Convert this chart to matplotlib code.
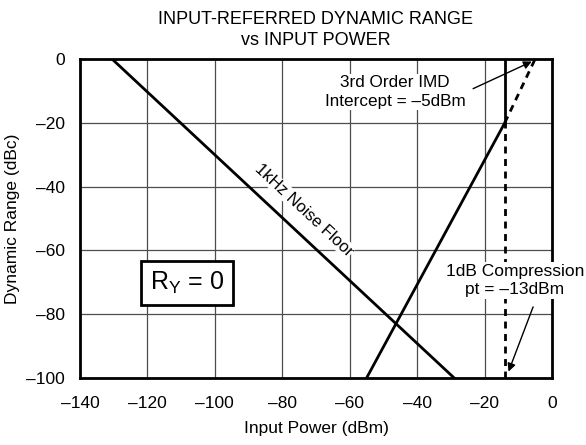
import numpy as np
import matplotlib.pyplot as plt

plt.rcParams['font.family'] = ['Liberation Sans', 'DejaVu Sans']

# noise floor (1kHz)
noise_x = [-130.5, -29]
noise_y = [0, -100]
# 3rd order IMD line, solid part and dashed extrapolation
imd_x = [-55, -14]
imd_y = [-100, -20]
imd_ext_x = [-14, -5]
imd_ext_y = [-20, 0]
# compression limit
comp_x = -14
comp_solid_y = [-20, 0]
comp_dash_y = [-100, -20]

fig = plt.figure(figsize=(5.86, 4.45), dpi=100)
ax = fig.add_axes([80/586, 1-378/445, 472/586, 319/445])

ax.plot(noise_x, noise_y, color='k', lw=2)
ax.plot(imd_x, imd_y, color='k', lw=2)
ax.plot(imd_ext_x, imd_ext_y, color='k', lw=2, ls=(0, (2.5, 2)))
ax.plot([comp_x, comp_x], comp_solid_y, color='k', lw=2)
ax.plot([comp_x, comp_x], comp_dash_y, color='k', lw=2, ls=(0, (2.5, 2)))

ax.set_xlim(-140, 0)
ax.set_ylim(-100, 0)
ax.set_xticks(np.arange(-140, 1, 20))
ax.set_yticks(np.arange(-100, 1, 20))
ax.set_xticklabels(['\u2013' + str(-v) if v < 0 else '0' for v in range(-140, 1, 20)])
ax.set_yticklabels(['\u2013' + str(-v) if v < 0 else '0' for v in range(-100, 1, 20)])
ax.tick_params(length=0, labelsize=12.5)
ax.tick_params(axis='x', pad=13)
ax.tick_params(axis='y', pad=11)
ax.grid(True, color='0.3', lw=0.9)
for s in ax.spines.values():
    s.set_linewidth(2)

ax.set_xlabel('Input Power (dBm)', fontsize=12.5, labelpad=7)
ax.set_ylabel('Dynamic Range (dBc)', fontsize=12.5, labelpad=4)
ax.set_title('INPUT-REFERRED DYNAMIC RANGE\nvs INPUT POWER', fontsize=13, pad=10, linespacing=1.35)

ax.text(-73.6, -47.3, '1kHz Noise Floor', rotation=-43, ha='center', va='center',
        fontsize=12, rotation_mode='anchor',
        bbox=dict(fc='white', ec='none', pad=0.5))

ax.text(-46.6, -10.3, '3rd Order IMD\nIntercept = \u20135dBm', ha='center', va='center',
        fontsize=12.3, linespacing=1.3, bbox=dict(fc='white', ec='none', pad=1))
ax.annotate('', xy=(-6.0, -0.8), xytext=(-23.4, -9.3),
            arrowprops=dict(arrowstyle='-|>', color='k', lw=1, shrinkA=0, shrinkB=0,
                            mutation_scale=12))

ax.text(-11, -69.4, '1dB Compression\npt = \u201313dBm', ha='center', va='center',
        fontsize=12.5, linespacing=1.3, clip_on=False,
        bbox=dict(fc='white', ec='none', pad=1))
ax.annotate('', xy=(-12.9, -98), xytext=(-5.6, -77.7),
            arrowprops=dict(arrowstyle='-|>', color='k', lw=1, shrinkA=0, shrinkB=0,
                            mutation_scale=12))

ax.text(-108.3, -70.3, r'R$_\mathregular{Y}$ = 0', ha='center', va='center', fontsize=18,
        bbox=dict(boxstyle='square,pad=0.35', fc='white', ec='k', lw=2))

fig.savefig('out.png', dpi=100)
